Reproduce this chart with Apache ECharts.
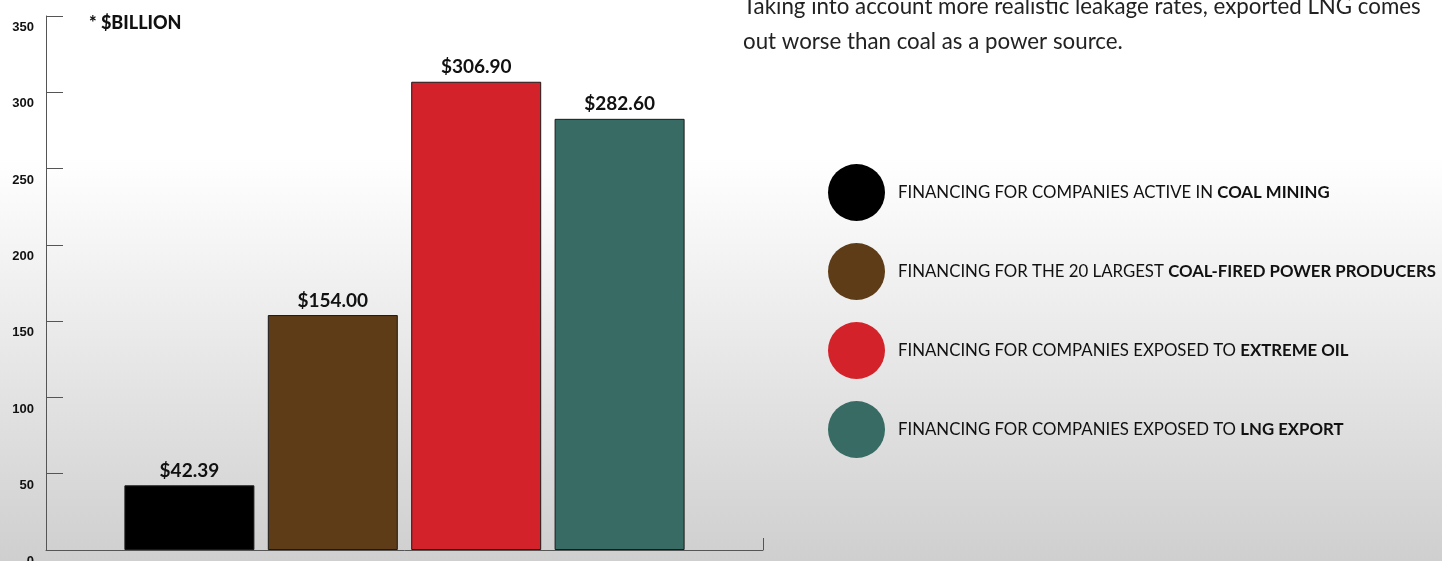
<!DOCTYPE html>
<html>
<head>
<meta charset="utf-8">
<script src="https://cdn.jsdelivr.net/npm/echarts@6/dist/echarts.min.js"></script>
<style>
  html, body { margin: 0; padding: 0; background: #fff; }
  #chart { width: 1442px; height: 561px; }
</style>
</head>
<body>
<div id="chart"></div>
<script>
// data
var categories = ['', 'Coal mining', 'Coal-fired power', 'Extreme oil', 'LNG export', ''];
var values = [42.39, 154.00, 306.90, 282.60];
var colors = ['#000000', '#5d3c17', '#d3222a', '#386b63'];
var legendPlain = [
  'FINANCING FOR COMPANIES ACTIVE IN ',
  'FINANCING FOR THE 20 LARGEST ',
  'FINANCING FOR COMPANIES EXPOSED TO ',
  'FINANCING FOR COMPANIES EXPOSED TO '
];
var legendBold = ['COAL MINING', 'COAL-FIRED POWER PRODUCERS', 'EXTREME OIL', 'LNG EXPORT'];
var yMin = 0, yMax = 350, yStep = 50;

var myChart = echarts.init(document.getElementById('chart'));

var series = values.map(function (v, i) {
  var d = categories.map(function () { return null; });
  d[i + 1] = v;
  return {
    name: legendPlain[i] + legendBold[i],
    type: 'bar',
    data: d,
    barWidth: 130,
    barGap: '-100%',
    itemStyle: { color: colors[i], borderColor: '#1a1a1a', borderWidth: 1 },
    label: {
      show: true,
      position: 'top',
      distance: 5,
      color: '#111',
      fontFamily: 'Lato',
      fontWeight: 'bold',
      fontSize: 19,
      formatter: function (p) { return '$' + p.value.toFixed(2); }
    }
  };
});

myChart.setOption({
  animation: false,
  graphic: [
    {
      type: 'rect',
      silent: true,
      z: -10,
      shape: { x: 0, y: 0, width: 1442, height: 561 },
      style: {
        fill: new echarts.graphic.LinearGradient(0, 0, 0, 1, [
          { offset: 0, color: '#ffffff' },
          { offset: 0.28, color: '#ffffff' },
          { offset: 1, color: '#cfcfcf' }
        ])
      }
    },
    {
      type: 'text',
      left: 89,
      top: 14,
      style: { text: '* $BILLION', fontFamily: 'Lato', fontWeight: 900, fontSize: 18, fill: '#111' }
    },
    {
      type: 'text',
      left: 743,
      top: -11,
      style: {
        text: 'Taking into account more realistic leakage rates, exported LNG comes\nout worse than coal as a power source.',
        fontFamily: 'Lato',
        fontSize: 22.3,
        lineHeight: 35,
        fill: '#222'
      }
    }
  ],
  legend: {
    orient: 'vertical',
    left: 823,
    top: 159,
    icon: 'circle',
    itemWidth: 57,
    itemHeight: 57,
    itemGap: 22,
    selectedMode: false,
    itemStyle: { borderWidth: 0 },
    data: series.map(function (s) { return s.name; }),
    formatter: function (name) {
      var i = series.findIndex(function (s) { return s.name === name; });
      return '{p|' + legendPlain[i] + '}{b|' + legendBold[i] + '}';
    },
    textStyle: {
      rich: {
        p: { fontFamily: 'Lato', fontSize: 16.8, color: '#111', padding: [0, 0, 0, 8] },
        b: { fontFamily: 'Lato', fontSize: 16.8, fontWeight: 'bold', color: '#111' }
      }
    }
  },
  grid: { left: 46, right: 679, top: 16, bottom: 11, outerBoundsMode: 'none', containLabel: false },
  xAxis: {
    type: 'category',
    data: categories,
    boundaryGap: false,
    axisLine: { lineStyle: { color: '#555', width: 1 } },
    axisTick: {
      show: true,
      inside: true,
      length: 12,
      interval: function (idx) { return idx === categories.length - 1; },
      lineStyle: { color: '#555' }
    },
    axisLabel: { show: false },
    splitLine: { show: false }
  },
  yAxis: {
    type: 'value',
    min: yMin,
    max: yMax,
    interval: yStep,
    axisLine: { show: true, lineStyle: { color: '#555', width: 1 } },
    axisTick: { show: true, inside: true, length: 17, lineStyle: { color: '#555' } },
    splitLine: { show: false },
    axisLabel: {
      margin: 12,
      verticalAlign: 'top',
      padding: [5, 0, 0, 0],
      fontFamily: 'Liberation Sans',
      fontWeight: 'bold',
      fontSize: 13,
      color: '#111'
    }
  },
  series: series
});

window.addEventListener('resize', function () {
  myChart.resize();
});
</script>
</body>
</html>
